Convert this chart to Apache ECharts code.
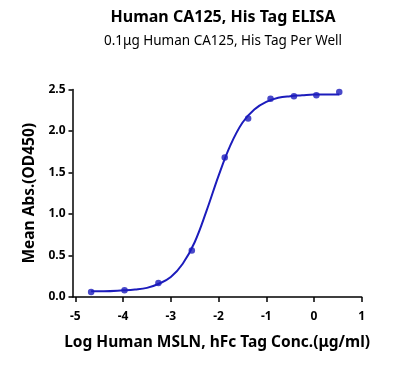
<!DOCTYPE html>
<html>
<head>
<meta charset="utf-8">
<script src="https://cdn.jsdelivr.net/npm/echarts@6/dist/echarts.min.js"></script>
<style>
html,body{margin:0;padding:0;background:#fff;}
#chart{width:412px;height:372px;}
</style>
</head>
<body>
<div id="chart"></div>
<script>
const titleText = 'Human CA125, His Tag ELISA';
const subtitleText = '0.1μg Human CA125, His Tag Per Well';
const xAxisName = 'Log Human MSLN, hFc Tag Conc.(μg/ml)';
const yAxisName = 'Mean Abs.(OD450)';

// measured points
const logConc = [-4.67, -3.97, -3.26, -2.56, -1.87, -1.38, -0.91, -0.42, 0.05, 0.53];
const meanAbs = [0.06, 0.08, 0.17, 0.56, 1.68, 2.15, 2.39, 2.42, 2.43, 2.47];

// fitted curve
const curveX = [-4.67, -4.4, -4.0, -3.75, -3.5, -3.25, -3.0, -2.75, -2.5, -2.25, -2.0, -1.75, -1.5, -1.25, -1.0, -0.75, -0.5, -0.25, 0.0, 0.25, 0.53];
const curveY = [0.07, 0.07, 0.08, 0.09, 0.11, 0.16, 0.24, 0.40, 0.66, 1.04, 1.46, 1.83, 2.10, 2.26, 2.35, 2.40, 2.42, 2.43, 2.44, 2.44, 2.44];

const xTicks = [-5, -4, -3, -2, -1, 0, 1];
const yTicks = [0, 0.5, 1, 1.5, 2, 2.5];

const color = '#1c1cbc';
const font = 'Noto Sans';

const chart = echarts.init(document.getElementById('chart'), null, {renderer: 'canvas'});
chart.setOption({
  animation: false,
  backgroundColor: '#fff',
  title: [
    {text: titleText, left: 218, top: 4, textAlign: 'center',
     textStyle: {fontFamily: font, fontSize: 16, fontWeight: 'bold', color: '#000'}},
    {text: subtitleText, left: 218, top: 29, textAlign: 'center',
     textStyle: {fontFamily: font, fontSize: 13.5, fontWeight: 'normal', color: '#000'}}
  ],
  grid: {left: 72.5, right: 50.3, top: 89.5, bottom: 75, containLabel: false},
  xAxis: {
    type: 'value', min: -5.06, max: 1,
    name: xAxisName, nameLocation: 'middle', nameGap: 38,
    nameTextStyle: {fontFamily: font, fontSize: 15.5, fontWeight: 'bold', color: '#000'},
    axisLine: {onZero: false, lineStyle: {color: '#000', width: 1.5}},
    axisTick: {show: true, length: 5, lineStyle: {color: '#000', width: 1.5}, customValues: xTicks},
    axisLabel: {fontFamily: font, fontSize: 12, fontWeight: 'bold', color: '#000', margin: 14, customValues: xTicks},
    splitLine: {show: false}
  },
  yAxis: {
    type: 'value', min: 0, max: 2.5, interval: 0.5,
    name: yAxisName, nameLocation: 'middle', nameGap: 33, nameRotate: 90,
    nameTextStyle: {fontFamily: font, fontSize: 15.5, fontWeight: 'bold', color: '#000'},
    axisLine: {show: true, onZero: false, lineStyle: {color: '#000', width: 1.5}},
    axisTick: {show: true, length: 4, lineStyle: {color: '#000', width: 1.5}},
    axisLabel: {fontFamily: font, fontSize: 12, fontWeight: 'bold', color: '#000', margin: 7,
      formatter: v => v.toFixed(1)},
    splitLine: {show: false}
  },
  series: [
    {type: 'line', data: curveX.map((x, i) => [x, curveY[i]]), smooth: 0.4, showSymbol: false,
     lineStyle: {color: color, width: 2}, z: 2, silent: true},
    {type: 'scatter', data: logConc.map((x, i) => [x, meanAbs[i]]), symbol: 'circle', symbolSize: 6.5,
     itemStyle: {color: color}, z: 3}
  ]
});
</script>
</body>
</html>
